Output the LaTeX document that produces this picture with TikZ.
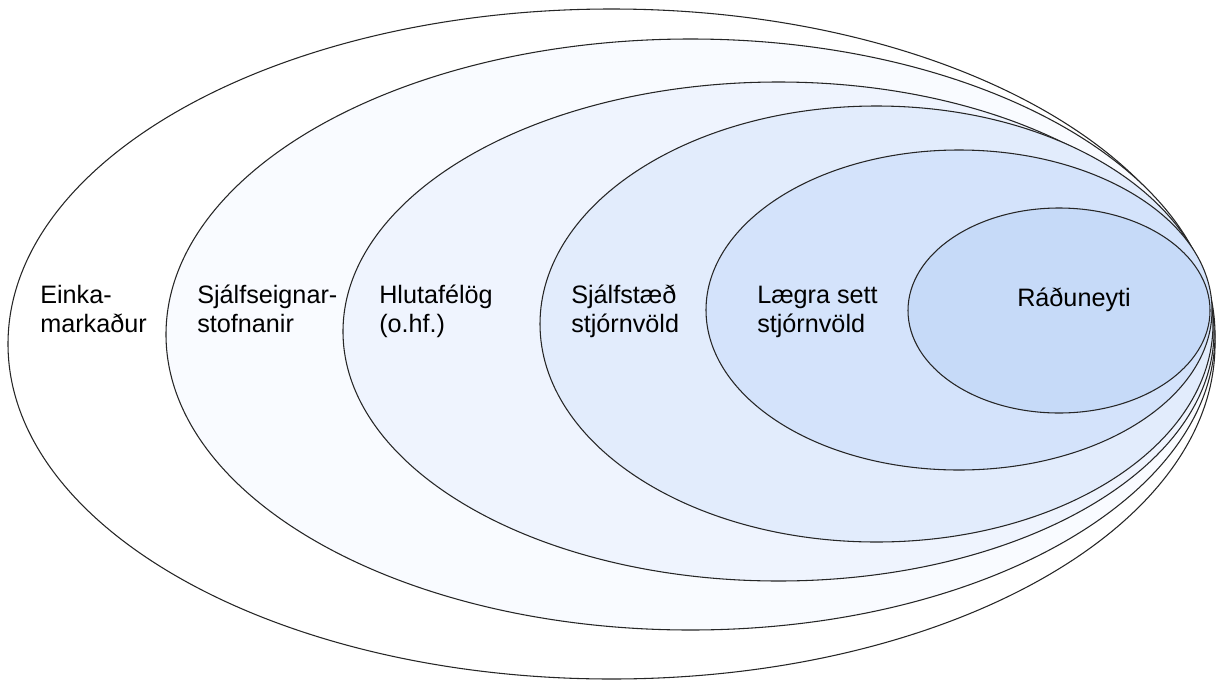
\documentclass[tikz,border=0pt]{standalone}
\usepackage{fontspec}
\setmainfont{Liberation Sans}
\usetikzlibrary{shapes.geometric}
\definecolor{fA}{HTML}{FFFFFF}
\definecolor{fB}{HTML}{F9FBFF}
\definecolor{fC}{HTML}{EFF4FE}
\definecolor{fD}{HTML}{E2ECFC}
\definecolor{fE}{HTML}{D4E3FB}
\definecolor{fF}{HTML}{C6DAF8}
\tikzset{
  ring/.style={draw=black!85, line width=0.8pt, ellipse, inner sep=0pt, outer sep=0pt},
  lbl/.style={anchor=base west, align=left, inner sep=0pt, font=\fontsize{18.9}{21.75}\selectfont}
}
\begin{document}
\begin{tikzpicture}[x=0.75pt,y=-0.75pt]
\useasboundingbox (0,0) rectangle (1217,682);
\node[ring, fill=fA, minimum width=1207*0.75pt, minimum height=670*0.75pt] (e1) at (611.5,344) {};
\node[ring, fill=fB, minimum width=1049*0.75pt, minimum height=591*0.75pt] (e2) at (690.5,334.5) {};
\node[ring, fill=fC, minimum width=871*0.75pt, minimum height=499*0.75pt] (e3) at (778.5,331.5) {};
\node[ring, fill=fD, minimum width=673*0.75pt, minimum height=436*0.75pt] (e4) at (876.5,324) {};
\node[ring, fill=fE, minimum width=506*0.75pt, minimum height=320*0.75pt] (e5) at (959,310) {};
\node[ring, fill=fF, minimum width=302*0.75pt, minimum height=205*0.75pt] (e6) at (1059,310.5) {};
\node[lbl] (t1) at (40,332) {Einka-\\markaður};
\node[lbl] (t2) at (197,332) {Sjálfseignar-\\stofnanir};
\node[lbl] (t3) at (379,332) {Hlutafélög\\(o.hf.)};
\node[lbl] (t4) at (571,332) {Sjálfstæð\\stjórnvöld};
\node[lbl] (t5) at (757,332) {Lægra sett\\stjórnvöld};
\node[lbl] (t6) at (1017,306) {Ráðuneyti};
\end{tikzpicture}
\end{document}
